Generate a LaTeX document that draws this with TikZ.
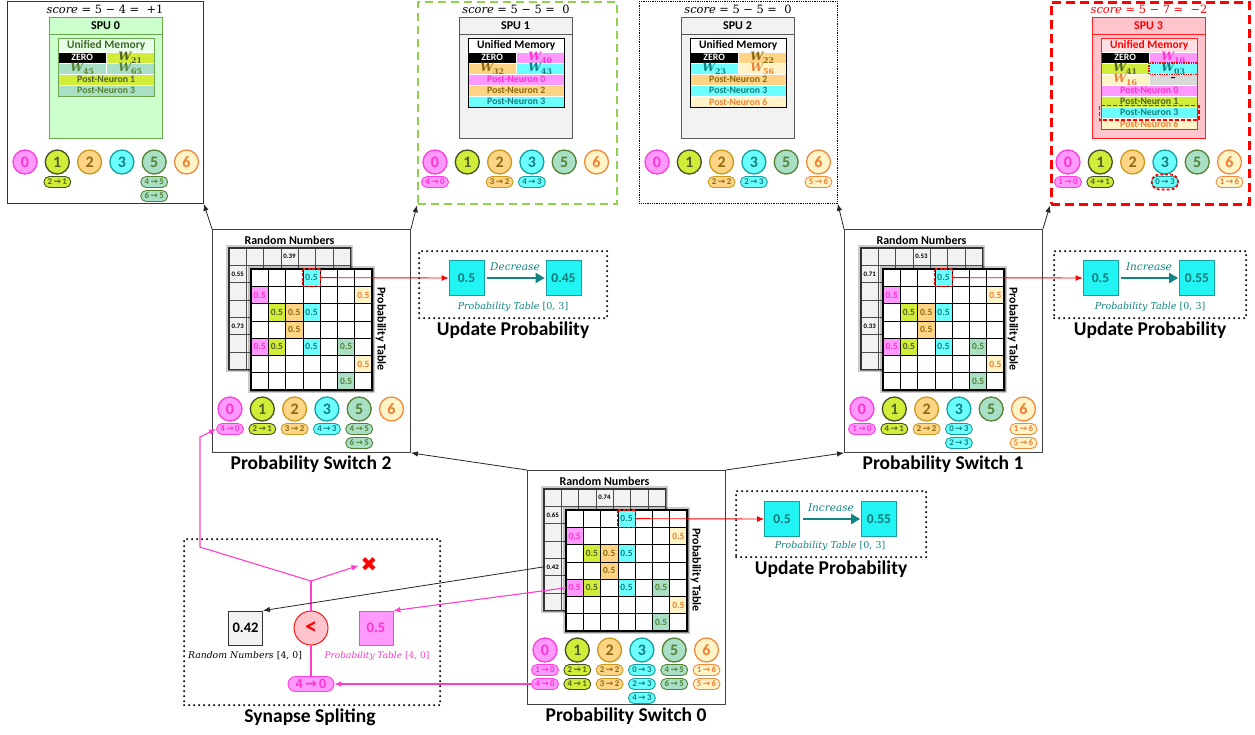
\documentclass[tikz,border=0pt]{standalone}
\usepackage{fontspec}
\newfontfamily\cb{Carlito}
\newfontfamily\djv{DejaVu Sans}
\newfontfamily\dvs{DejaVu Serif}
\usetikzlibrary{arrows.meta,shapes.misc,calc}

% neuron colour families: fill, border, text
\definecolor{pkF}{HTML}{FF99FF}\definecolor{pkB}{HTML}{FF3FD8}\definecolor{pkT}{HTML}{FF33CC}
\definecolor{lmF}{HTML}{D2EC3A}\definecolor{lmB}{HTML}{3F5220}\definecolor{lmT}{HTML}{4F6228}
\definecolor{orF}{HTML}{FFD485}\definecolor{orB}{HTML}{C99A1E}\definecolor{orT}{HTML}{8C6A10}
\definecolor{cyF}{HTML}{6CFFFF}\definecolor{cyB}{HTML}{14A0A0}\definecolor{cyT}{HTML}{128080}
\definecolor{sgF}{HTML}{A9DFC4}\definecolor{sgB}{HTML}{548235}\definecolor{sgT}{HTML}{548235}
\definecolor{ylF}{HTML}{FFF4C8}\definecolor{ylB}{HTML}{F08A3C}\definecolor{ylT}{HTML}{F07F2F}
% other colours
\definecolor{upF}{HTML}{22F4F4}\definecolor{upT}{HTML}{137878}\definecolor{teal2}{HTML}{138484}
\definecolor{gnF}{HTML}{CCFFCC}\definecolor{gnB}{HTML}{6AA84F}\definecolor{gnT}{HTML}{3B6A25}
\definecolor{gyF}{HTML}{F2F2F2}\definecolor{gyB}{HTML}{595959}
\definecolor{rdF}{HTML}{FFC4CC}\definecolor{rdB}{HTML}{FF2020}
\definecolor{dashG}{HTML}{92D050}
\definecolor{lineP}{HTML}{FF3FCC}

% synapse label "a -> b"
\newcommand\sy[2]{#1\,{\djv\bfseries →}\,#2}
% italic label with an upright index
\newcommand\lbl[2]{{\dvs\itshape #1} {\dvs #2}}
% weight W with a two-digit index
\newcommand\wt[1]{{\dvs\itshape\fontsize{11.5}{11.5}\selectfont W}\raisebox{-2.6pt}{\dvs\fontsize{7.8}{7.8}\selectfont #1}}

% six neuron circles in a row
\newcommand\neurons[3]{%
  \foreach \lab/\ix in {0/0,1/1,2/2,3/3,5/4,6/5}
    \node[nrn,c\lab] (#1n\lab) at ({#2+32.3*\ix},#3) {\lab};}
% synapse pill under a neuron: prefix, post neuron, row, pre neuron
\newcommand\pill[4]{%
  \node[pill,c#2] (#1p#4#2) at ($(#1n#2)+(0,{6+14*#3})$) {\sy{#4}{#2}};}
% memory cell: name, x, y, w, h, style, text
\newcommand\mc[7]{\node[mcell,#6,minimum width=#4pt,minimum height=#5pt,anchor=north west] (#1) at (#2,#3) {#7};}

% random number grid: prefix, left, top, three values
\newcommand\rgrid[6]{%
  \draw[black,opacity=.2,line width=6pt] (#2,#3) rectangle ++(121.1,121.1);
  \draw[black,opacity=.35,line width=3pt] (#2,#3) rectangle ++(121.1,121.1);
  \fill[gyF] (#2,#3) rectangle ++(121.1,121.1);
  \foreach \k in {1,...,6}{
    \draw[black!70,line width=.6pt] ({#2+17.3*\k},#3) -- ++(0,121.1);
    \draw[black!70,line width=.6pt] (#2,{#3+17.3*\k}) -- ++(121.1,0);}
  \draw[black!80,line width=1.2pt] (#2,#3) rectangle ++(121.1,121.1);
  \node[rval] (#1r03) at ({#2+60.55},{#3+8.65}) {#4};
  \node[rval] (#1r10) at ({#2+8.65},{#3+25.95}) {#5};
  \node[rval] (#1r40) at ({#2+8.65},{#3+77.85}) {#6};}

% probability table: prefix, left, top
\newcommand\ptable[3]{%
  \draw[black,opacity=.2,line width=6pt] (#2,#3) rectangle ++(121.1,121.1);
  \draw[black,opacity=.35,line width=3pt] (#2,#3) rectangle ++(121.1,121.1);
  \fill[white] (#2,#3) rectangle ++(121.1,121.1);
  \foreach \pr/\pc/\pn in {0/3/3,1/0/0,1/6/6,2/1/1,2/2/2,2/3/3,3/2/2,4/0/0,4/1/1,4/3/3,4/5/5,5/6/6,6/5/5}
    \node[pcell,t\pn] (#1c\pr\pc) at ({#2+17.3*\pc+8.65},{#3+17.3*\pr+8.65}) {0.5};
  \foreach \k in {1,...,6}{
    \draw[black,line width=.7pt] ({#2+17.3*\k},#3) -- ++(0,121.1);
    \draw[black,line width=.7pt] (#2,{#3+17.3*\k}) -- ++(121.1,0);}
  \draw[black,line width=1.6pt] (#2,#3) rectangle ++(121.1,121.1);
  \draw[red,line width=1.5pt,dash pattern=on 3pt off 1.5pt] (#1c03.north west) rectangle (#1c03.south east);}

% probability switch: prefix, left, top, height, title, random values
\newcommand\pswitch[8]{%
  \node[psbox,minimum height=#4pt] (#1) at (#2,#3) {};
  \node[title] (#1t) at ({#2+99},{#3+#4+12}) {#5};
  \node[smallhead] (#1rt) at ({#2+77.5},{#3+11}) {Random Numbers};
  \rgrid{#1}{#2+17}{#3+19}{#6}{#7}{#8}
  \ptable{#1}{#2+39}{#3+40}
  \node[smallhead,rotate=-90] (#1pt) at ({#2+169},{#3+100}) {Probability Table};
  \neurons{#1}{#2+18}{#3+180}}

% SPU core box: prefix, outer left, fill, border, label, label colour
\newcommand\spucore[6]{%
  \node[spuin,fill=#3,draw=#4] (#1in) at ({#2+42},17) {};
  \node[spuhead,text=#6] (#1hd) at ({#2+98.5},25.5) {#5};
  \draw[#4,line width=1pt] ({#2+42},34) -- ++(113,0);}

\tikzset{
  c0/.style={fill=pkF,draw=pkB,text=pkT}, c1/.style={fill=lmF,draw=lmB,text=lmT},
  c2/.style={fill=orF,draw=orB,text=orT}, c3/.style={fill=cyF,draw=cyB,text=cyT},
  c5/.style={fill=sgF,draw=sgB,text=sgT}, c6/.style={fill=ylF,draw=ylB,text=ylT},
  t0/.style={fill=pkF,text=pkT}, t1/.style={fill=lmF,text=lmT},
  t2/.style={fill=orF,text=orT}, t3/.style={fill=cyF,text=cyT},
  t5/.style={fill=sgF,text=sgT}, t6/.style={fill=ylF,text=ylT},
  nrn/.style={circle,minimum size=24pt,inner sep=0pt,line width=1.3pt,font=\cb\bfseries\fontsize{16}{16}\selectfont},
  pill/.style={rounded rectangle,minimum width=27pt,minimum height=11pt,inner sep=0pt,line width=.9pt,font=\cb\bfseries\fontsize{8.8}{8.8}\selectfont},
  pcell/.style={rectangle,minimum size=17.3pt,inner sep=0pt,font=\cb\bfseries\fontsize{9.5}{9.5}\selectfont},
  rval/.style={inner sep=0pt,minimum size=17.3pt,font=\cb\bfseries\fontsize{6.8}{6.8}\selectfont},
  mcell/.style={rectangle,inner sep=0pt,draw=white,line width=.4pt,font=\cb\bfseries\fontsize{9.8}{9.8}\selectfont},
  hf/.style={font=\cb\bfseries\fontsize{11.5}{11.5}\selectfont},
  wf/.style={},
  smallhead/.style={font=\cb\bfseries\fontsize{12}{12}\selectfont,inner sep=0pt},
  psbox/.style={draw=black!75,line width=.9pt,anchor=north west,minimum width=198pt,inner sep=0pt},
  title/.style={font=\cb\bfseries\fontsize{19.5}{19.5}\selectfont,inner sep=0pt},
  conn/.style={draw=black!85,line width=.8pt,-{Latex[length=7pt,width=5.5pt]}},
  redarr/.style={draw=red,line width=.9pt,-{Latex[length=7pt,width=6pt]}},
  pinkln/.style={draw=lineP,line width=1.1pt},
  pinkarr/.style={draw=lineP,line width=1.1pt,-{Latex[length=7pt,width=6pt]}},
  tealarr/.style={draw=teal2,line width=2.2pt,-{Triangle[length=9pt,width=10pt]}},
  dotbox/.style={draw=black,line width=2.3pt,dash pattern=on 0pt off 5pt,line cap=round,anchor=north west,inner sep=0pt},
  upsq/.style={draw=cyB,fill=upF,minimum size=35pt,inner sep=0pt,text=upT,line width=.7pt,font=\cb\bfseries\fontsize{13.5}{13.5}\selectfont},
  itl/.style={font=\fontsize{9.5}{9.5}\selectfont,inner sep=0pt},
  verb/.style={font=\dvs\itshape\fontsize{10.5}{10.5}\selectfont,inner sep=0pt,text=teal2},
  score/.style={font=\dvs\fontsize{11.4}{11.4}\selectfont,inner sep=0pt},
  spuin/.style={anchor=north west,minimum width=113pt,minimum height=121pt,inner sep=0pt,line width=1pt},
  spuhead/.style={font=\cb\bfseries\fontsize{12}{12}\selectfont,inner sep=0pt},
  spuout/.style={anchor=north west,minimum height=202pt,inner sep=0pt},
}

\begin{document}
\begin{tikzpicture}[x=1pt,y=-1pt]
\useasboundingbox (0,0) rectangle (1255,734);
\fill[white] (0,0) rectangle (1255,734);

%% ---------------- SPU 0 ----------------
\node[spuout,draw=black!80,line width=.8pt,minimum width=196pt] (spu0) at (7,1) {};
\node[score] (sc0) at (105,9) {\textit{score} = 5 − 4 = \ +1};
\spucore{s0}{7}{gnF}{gnB}{SPU 0}{black}
\mc{s0h}{58}{38}{96}{14}{fill=gnF!45!white,text=gnT,hf}{Unified Memory}
\mc{s0z}{58}{52}{48}{11}{fill=black,text=white}{ZERO}
\mc{s0a}{106}{52}{48}{11}{t1}{\wt{21}}
\mc{s0b}{58}{63}{48}{11}{t5}{\wt{45}}
\mc{s0c}{106}{63}{48}{11}{t5}{\wt{65}}
\mc{s0d}{58}{74}{96}{11}{t1}{Post-Neuron 1}
\mc{s0e}{58}{85}{96}{11}{t5}{Post-Neuron 3}
\draw[gnB,line width=1pt] (58,38) rectangle (154,96);
\neurons{s0}{25}{162}
\pill{s0}{1}{1}{2}
\pill{s0}{5}{1}{4}
\pill{s0}{5}{2}{6}

%% ---------------- SPU 1 ----------------
\node[spuout,draw=dashG,line width=2.3pt,dash pattern=on 8pt off 5pt,minimum width=199pt] (spu1) at (417,1) {};
\node[score] (sc1) at (516,9) {\textit{score} = 5 − 5 = \ 0};
\spucore{s1}{417}{gyF}{gyB}{SPU 1}{black}
\mc{s1h}{468}{38}{96}{14}{fill=white,text=black,hf}{Unified Memory}
\mc{s1z}{468}{52}{48}{11}{fill=black,text=white}{ZERO}
\mc{s1a}{516}{52}{48}{11}{t0}{\wt{40}}
\mc{s1b}{468}{63}{48}{11}{t2}{\wt{32}}
\mc{s1c}{516}{63}{48}{11}{t3}{\wt{43}}
\mc{s1d}{468}{74}{96}{11}{t0}{Post-Neuron 0}
\mc{s1e}{468}{85}{96}{11}{t2}{Post-Neuron 2}
\mc{s1f}{468}{96}{96}{11}{t3}{Post-Neuron 3}
\draw[black,line width=1pt] (468,38) rectangle (564,107);
\neurons{s1}{435}{162}
\pill{s1}{0}{1}{4}
\pill{s1}{2}{1}{3}
\pill{s1}{3}{1}{4}

%% ---------------- SPU 2 ----------------
\node[spuout,draw=black,line width=.8pt,densely dotted,minimum width=198pt] (spu2) at (639,1) {};
\node[score] (sc2) at (738,9) {\textit{score} = 5 − 5 = \ 0};
\spucore{s2}{639}{gyF}{gyB}{SPU 2}{black}
\mc{s2h}{690}{38}{96}{14}{fill=white,text=black,hf}{Unified Memory}
\mc{s2z}{690}{52}{48}{11}{fill=black,text=white}{ZERO}
\mc{s2a}{738}{52}{48}{11}{t2}{\wt{22}}
\mc{s2b}{690}{63}{48}{11}{t3}{\wt{23}}
\mc{s2c}{738}{63}{48}{11}{t6}{\wt{56}}
\mc{s2d}{690}{74}{96}{11}{t2}{Post-Neuron 2}
\mc{s2e}{690}{85}{96}{11}{t3}{Post-Neuron 3}
\mc{s2f}{690}{96}{96}{11}{t6}{Post-Neuron 6}
\draw[black,line width=1pt] (690,38) rectangle (786,107);
\neurons{s2}{657}{162}
\pill{s2}{2}{1}{2}
\pill{s2}{3}{1}{2}
\pill{s2}{6}{1}{5}

%% ---------------- SPU 3 ----------------
\node[spuout,draw=red,line width=2.5pt,dash pattern=on 9pt off 5pt,minimum width=198pt] (spu3) at (1050,1) {};
\node[score,text=red] (sc3) at (1149,9) {\textit{score} = 5 − 7 = \ −2};
\spucore{s3}{1050}{rdF}{rdB}{SPU 3}{red}
\mc{s3h}{1101}{38}{96}{14}{fill=rdF!55!white,text=red,hf}{Unified Memory}
\mc{s3z}{1101}{52}{48}{11}{fill=black,text=white}{ZERO}
\mc{s3a}{1149}{52}{48}{11}{t0}{\wt{10}}
\mc{s3b}{1101}{63}{48}{11}{t1}{\wt{41}}
\mc{s3c}{1149}{63}{48}{11}{t3}{\wt{03}}
\mc{s3d}{1101}{74}{48}{11}{t6}{\wt{16}}
\mc{s3e}{1149}{74}{48}{11}{fill=black!15,text=black,font=\cb\bfseries\fontsize{12}{12}\selectfont}{–}
\mc{s3f}{1101}{85}{96}{11}{t0}{Post-Neuron 0}
\mc{s3g}{1101}{96}{96}{11}{t1}{Post-Neuron 1}
\mc{s3k}{1101}{107}{96}{11}{t3}{Post-Neuron 3}
\mc{s3m}{1101}{118}{96}{11}{t6}{Post-Neuron 6}
\draw[rdB,line width=1pt] (1101,38) rectangle (1197,129);
\draw[red,line width=1.4pt,densely dotted] (s3c.north west) rectangle (s3c.south east);
\draw[red,line width=1.7pt,dash pattern=on 4pt off 2pt] ($(s3k.north west)+(-1.5,-1.5)$) rectangle ($(s3k.south east)+(1.5,1.5)$);
\neurons{s3}{1068}{162}
\pill{s3}{0}{1}{1}
\pill{s3}{1}{1}{4}
\pill{s3}{3}{1}{0}
\pill{s3}{6}{1}{1}
\node[rounded rectangle,draw=red,line width=1.7pt,dash pattern=on 3pt off 2pt,minimum width=33pt,minimum height=15pt] (s3sel) at (s3p03) {};

%% ---------------- probability switches ----------------
\pswitch{ps2}{212}{229}{223}{Probability Switch 2}{0.39}{0.55}{0.73}
\foreach \q/\w/\e in {0/1/4,1/1/2,2/1/3,3/1/4,5/1/4,5/2/6} {\pill{ps2}{\q}{\w}{\e}}

\pswitch{ps1}{844}{229}{223}{Probability Switch 1}{0.53}{0.71}{0.33}
\foreach \q/\w/\e in {0/1/1,1/1/4,2/1/2,3/1/0,3/2/2,6/1/1,6/2/5} {\pill{ps1}{\q}{\w}{\e}}

\pswitch{ps0}{527}{470}{234}{Probability Switch 0}{0.74}{0.65}{0.42}
\foreach \q/\w/\e in {0/1/1,0/2/4,1/1/2,1/2/4,2/1/2,2/2/3,3/1/0,3/2/2,3/3/4,5/1/4,5/2/6,6/1/1,6/2/5} {\pill{ps0}{\q}{\w}{\e}}

%% ---------------- update probability boxes ----------------
\node[dotbox,minimum width=188pt,minimum height=67pt] (up2) at (418,250) {};
\node[upsq] (up2a) at (466.5,278) {0.5};
\node[upsq] (up2b) at (563.5,278) {0.45};
\draw[tealarr,shorten <=3pt,shorten >=1pt] (up2a.east) -- (up2b.west);
\node[verb] (up2d) at (515,267) {Decrease};
\node[itl,text=teal2] (up2l) at (513,307) {\lbl{Probability Table}{[0, 3]}};
\node[title] (up2t) at (513,330) {Update Probability};

\node[dotbox,minimum width=192pt,minimum height=67pt] (up1) at (1053,250) {};
\node[upsq] (up1a) at (1100.5,278) {0.5};
\node[upsq] (up1b) at (1197,278) {0.55};
\draw[tealarr,shorten <=3pt,shorten >=1pt] (up1a.east) -- (up1b.west);
\node[verb] (up1d) at (1149,267) {Increase};
\node[itl,text=teal2] (up1l) at (1150,307) {\lbl{Probability Table}{[0, 3]}};
\node[title] (up1t) at (1150,330) {Update Probability};

\node[dotbox,minimum width=190pt,minimum height=66pt] (up0) at (735,490) {};
\node[upsq] (up0a) at (782,519) {0.5};
\node[upsq] (up0b) at (879,519) {0.55};
\draw[tealarr,shorten <=3pt,shorten >=1pt] (up0a.east) -- (up0b.west);
\node[verb] (up0d) at (831,508) {Increase};
\node[itl,text=teal2] (up0l) at (830,546) {\lbl{Probability Table}{[0, 3]}};
\node[title] (up0t) at (831,569) {Update Probability};

%% ---------------- synapse splitting ----------------
\node[dotbox,minimum width=256pt,minimum height=166pt] (ss) at (183,538) {};
\node[title] (sst) at (310,717) {Synapse Spliting};
\node[draw=black!80,fill=gyF,minimum size=34pt,inner sep=0pt,line width=.8pt,font=\cb\bfseries\fontsize{14.5}{14.5}\selectfont] (ssr) at (245.5,628) {0.42};
\node[itl,text=black,font=\fontsize{9.3}{9.3}\selectfont] (ssrl) at (245,656) {\lbl{Random Numbers}{[4, 0]}};
\node[circle,draw=red,fill=rdF,minimum size=34pt,inner sep=0pt,line width=.9pt,text=red,font=\cb\bfseries\fontsize{24}{24}\selectfont] (sslt) at (311,628) {<};
\node[draw=pkB,fill=pkF,minimum size=34pt,inner sep=0pt,line width=.8pt,text=pkT,font=\cb\bfseries\fontsize{14.5}{14.5}\selectfont] (ssp) at (376,628) {0.5};
\node[itl,text=pkT,font=\fontsize{9}{9}\selectfont] (sspl) at (377,656) {\lbl{Probability Table}{[4, 0]}};
\node[pill,c0,minimum width=46pt,minimum height=15pt,font=\cb\bfseries\fontsize{14}{14}\selectfont] (sspill) at (311,684) {\sy{4}{0}};
\node[text=red,font=\djv\bfseries\fontsize{20}{20}\selectfont,inner sep=0pt] (ssx) at (369,565) {✖};
\coordinate (ssj) at (311,581);
\coordinate (ssk1) at (200,547);
\coordinate (ssk2) at (200,437);
\draw[pinkln] (sspill.north) -- (sslt.south);
\draw[pinkln] (sslt.north) -- (ssj);
\draw[pinkarr] (ssj) -- (ssk1) -- (ssk2) -- (ps2p40.west);
\draw[pinkarr,shorten >=2pt] (ssj) -- (ssx.west);

%% ---------------- connectors ----------------
\draw[conn] (ps2.north west) -- (spu0.south east);
\draw[conn] (ps2.north east) -- (spu1.south west);
\draw[conn] (ps1.north west) -- (spu2.south east);
\draw[conn] (ps1.north east) -- (spu3.south west);
\draw[conn] (ps0.north west) -- (ps2.south east);
\draw[conn] (ps0.north east) -- (ps1.south west);
\draw[redarr] (ps2c03.east) -- (up2a.west);
\draw[redarr] (ps1c03.east) -- (up1a.west);
\draw[redarr] (ps0c03.east) -- (up0a.west);
\draw[conn] (ps0r40.west) -- (ssr.north east);
\draw[pinkarr] (ps0c40.west) -- (ssp.north east);
\draw[pinkarr] (ps0p40.west) -- (sspill.east);
\end{tikzpicture}
\end{document}
